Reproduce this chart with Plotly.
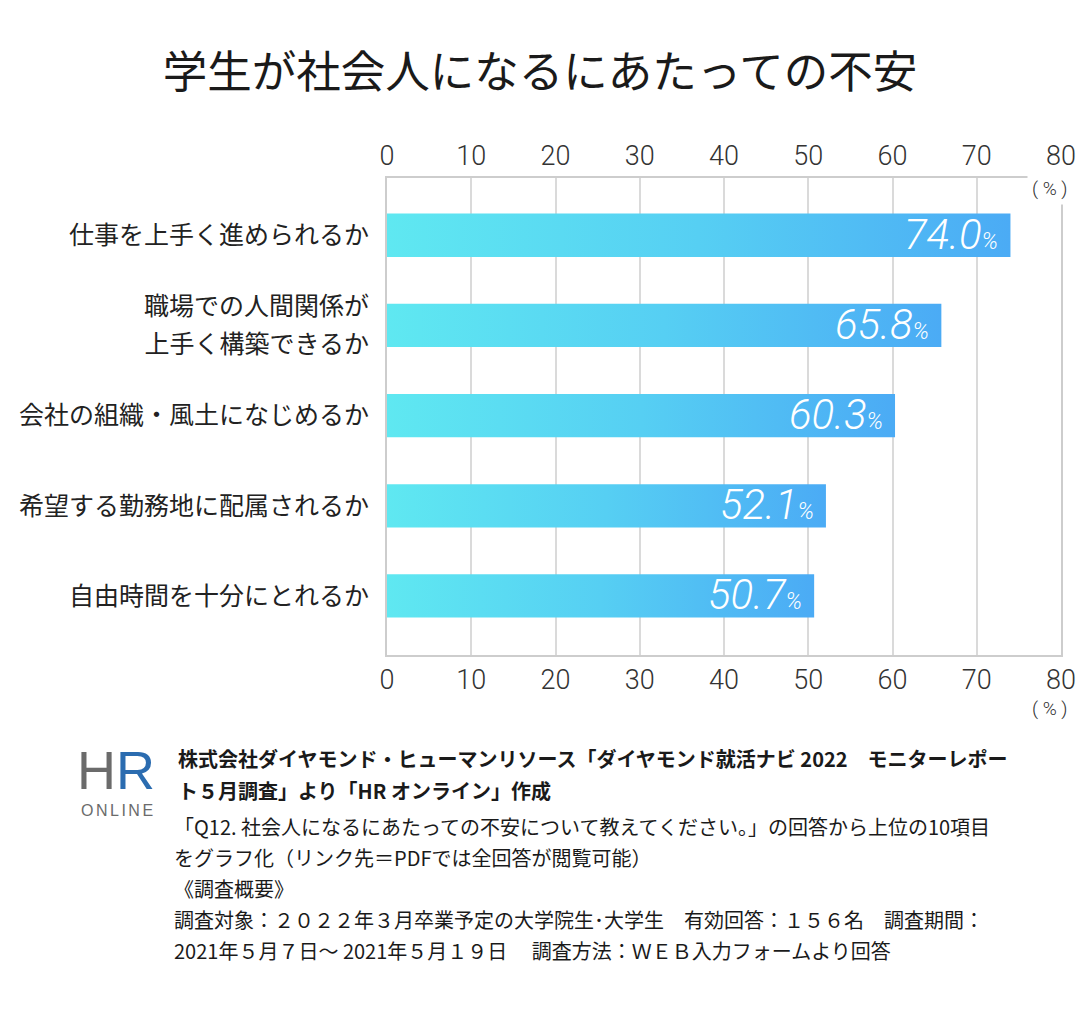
import plotly.graph_objects as go

# ---- data ----
categories = [
    "仕事を上手く進められるか",
    "職場での人間関係が<br>上手く構築できるか",
    "会社の組織・風土になじめるか",
    "希望する勤務地に配属されるか",
    "自由時間を十分にとれるか",
]
values = [74.0, 65.8, 60.3, 52.1, 50.7]
x_ticks = [0, 10, 20, 30, 40, 50, 60, 70, 80]

title_text = "学生が社会人になるにあたっての不安"
footer_bold = [
    "株式会社ダイヤモンド・ヒューマンリソース「ダイヤモンド就活ナビ 2022　モニターレポー",
    "ト５月調査」より「HR オンライン」作成",
]
footer_regular = [
    "「Q12. 社会人になるにあたっての不安について教えてください。」の回答から上位の10項目",
    "をグラフ化（リンク先＝PDFでは全回答が閲覧可能）",
    "《調査概要》",
    "調査対象：２０２２年３月卒業予定の大学院生･大学生　有効回答：１５６名　調査期間：",
    "2021年５月７日～ 2021年５月１９日　 調査方法：ＷＥＢ入力フォームより回答",
]

W, H = 1080, 1012
CJK = "Noto Sans CJK JP"
NUM = "Roboto"

def px(x):
    return x / W

def py(y):
    return 1 - y / H

fig = go.Figure()

bar_w = 0.48
for i, v in enumerate(values):
    fig.add_trace(go.Scatter(
        x=[0, v, v, 0, 0],
        y=[i - bar_w / 2, i - bar_w / 2, i + bar_w / 2, i + bar_w / 2, i - bar_w / 2],
        mode="lines",
        line=dict(width=0),
        fill="toself",
        fillgradient=dict(type="horizontal",
                          colorscale=[[0, "#5FE8F1"], [0.5, "#56CFF3"], [1, "#4BABF5"]]),
        hoverinfo="skip",
        showlegend=False,
    ))
    fig.add_annotation(
        x=v, y=i, xref="x", yref="y",
        text=f"{v:.1f}<span style='font-size:23px'>%</span>",
        xanchor="right", yanchor="middle", xshift=-10, yshift=1,
        showarrow=False,
        font=dict(family=NUM, size=42, color="white", style="italic", weight=300),
    )

# invisible trace on top axis
fig.add_trace(go.Scatter(x=[0, 80], y=[0, 0], xaxis="x2", mode="markers",
                         marker=dict(opacity=0), hoverinfo="skip", showlegend=False))

# category tick labels (multi-line labels split into separate lines)
line_gap = 0.21
tick_vals, tick_text = [], []
for i, c in enumerate(categories):
    parts = c.split("<br>")
    n = len(parts)
    for k, p in enumerate(parts):
        tick_vals.append(i + (k - (n - 1) / 2) * 2 * line_gap)
        tick_text.append(p)

axis_line = "#cdcdcd"
grid = "#dadada"
num_font = dict(family=NUM, size=27, color="#333333", weight=300)
fig.update_layout(
    width=W, height=H,
    margin=dict(l=0, r=0, t=0, b=0),
    plot_bgcolor="white", paper_bgcolor="white",
    title=dict(text=title_text, x=0.5, xanchor="center", y=py(72), yanchor="middle",
               font=dict(family=CJK, size=44.5, color="#1a1a1a")),
    xaxis=dict(domain=[px(387), px(1061)], range=[0, 80], tickvals=x_ticks,
               showgrid=True, gridcolor=grid, gridwidth=1.5,
               showline=True, linecolor=axis_line, linewidth=2,
               zeroline=False, ticks="", ticklabelstandoff=0, automargin=False,
               tickfont=num_font, fixedrange=True),
    xaxis2=dict(overlaying="x", side="top", matches="x", range=[0, 80], tickvals=x_ticks,
                showgrid=False, showline=True, linecolor=axis_line, linewidth=2,
                zeroline=False, ticks="", ticklabelstandoff=0, automargin=False,
                tickfont=num_font),
    yaxis=dict(domain=[py(655), py(178)], range=[4.655, -0.635],
               tickvals=tick_vals, ticktext=tick_text, automargin=False,
               showgrid=False, zeroline=False, showline=True, mirror=True,
               linecolor=axis_line, linewidth=2, ticks="", ticklabelstandoff=11,
               tickfont=dict(family=CJK, size=25, color="#222222")),
)

# (%) unit labels
fig.add_annotation(x=px(1050), y=py(188), xref="paper", yref="paper", text="( % )",
                   showarrow=False, xanchor="center", yanchor="middle",
                   bgcolor="white", borderpad=4,
                   font=dict(family=NUM, size=19, color="#333333", weight=300))
fig.add_annotation(x=px(1050), y=py(708), xref="paper", yref="paper", text="( % )",
                   showarrow=False, xanchor="center", yanchor="middle",
                   font=dict(family=NUM, size=19, color="#333333", weight=300))

# logo
fig.add_annotation(
    x=px(116), y=py(770), xref="paper", yref="paper",
    text=("<span style='color:#6b6b6b'>H</span>"
          "<span style='color:#2b6cb0'>R</span>"),
    showarrow=False, xanchor="center", yanchor="middle", borderpad=0,
    font=dict(family="Liberation Sans", size=54))
fig.add_annotation(
    x=px(118), y=py(810), xref="paper", yref="paper",
    text="<span style='letter-spacing:2.5px'>ONLINE</span>",
    showarrow=False, xanchor="center", yanchor="middle", borderpad=0,
    font=dict(family="Liberation Sans", size=16, color="#6b6b6b"))

# footer text
y0 = 758
for j, t in enumerate(footer_bold):
    fig.add_annotation(x=px(176), y=py(y0 + j * 32), xref="paper", yref="paper", text=t,
                       showarrow=False, xanchor="left", yanchor="middle",
                       font=dict(family=CJK, size=20, color="#1a1a1a", weight=700))
y1 = 826
for j, t in enumerate(footer_regular):
    fig.add_annotation(x=px(172), y=py(y1 + j * 31.2), xref="paper", yref="paper", text=t,
                       showarrow=False, xanchor="left", yanchor="middle",
                       font=dict(family=CJK, size=20, color="#1a1a1a"))

fig.write_html("out.html")
